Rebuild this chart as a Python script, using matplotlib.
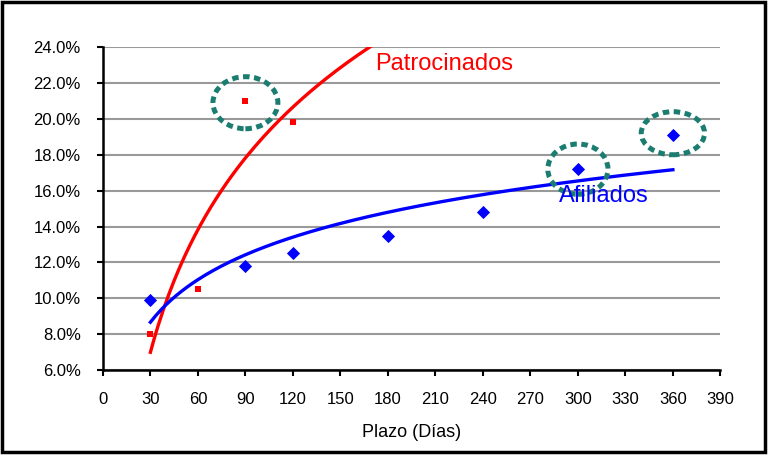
import numpy as np
import matplotlib
matplotlib.use("Agg")
import matplotlib.pyplot as plt
from matplotlib.patches import Ellipse, Rectangle
from matplotlib.ticker import FuncFormatter

# data (plazo in days, rate in %)
patro_x = [30, 60, 90, 120]
patro_y = [8.0, 10.5, 21.0, 19.8]
afil_x = [30, 90, 120, 180, 240, 300, 360]
afil_y = [9.9, 11.8, 12.5, 13.5, 14.8, 17.2, 19.1]
# highlighted points (circled in the chart)
circled = [(90, 20.9, 41, 2.9), (300, 17.2, 38, 2.8), (360, 19.2, 40, 2.4)]
x_ticks = list(range(0, 391, 30))
y_ticks = list(np.arange(6, 24.1, 2))

plt.rcParams['font.family'] = ['Liberation Sans', 'DejaVu Sans']

fig = plt.figure(figsize=(7.68, 4.57), dpi=100)
ax = fig.add_axes([0.134, 0.19, 0.804, 0.707])

# logarithmic trend lines, like the excel ones
def logfit(xs, ys, x0, x1):
    b, a = np.polyfit(np.log(xs), ys, 1)
    xx = np.linspace(x0, x1, 200)
    return xx, a + b * np.log(xx)

xr, yr = logfit(patro_x, patro_y, 30, 360)
xb, yb = logfit(afil_x, afil_y, 30, 360)
ax.plot(xr, yr, color='#ff0000', lw=2.4, zorder=3)
ax.plot(xb, yb, color='#0000ff', lw=2.4, zorder=3)

ax.scatter(patro_x, patro_y, marker='s', s=22, color='#ff0000', zorder=4, linewidths=0)
ax.scatter(afil_x, afil_y, marker='D', s=45, color='#0000ff', zorder=4, linewidths=0)

for cx, cy, w, h in circled:
    ax.add_patch(Ellipse((cx, cy), w, h, fill=False, edgecolor='#1b7d70',
                         lw=3.6, linestyle=(0, (1.3, 0.9)), zorder=5))

ax.text(172, 23.05, 'Patrocinados', color='#ff0000', fontsize=17, va='center', zorder=6)
ax.text(288, 15.7, 'Afiliados', color='#0000ff', fontsize=17, va='center', zorder=6)

ax.set_xlim(0, 390)
ax.set_ylim(6, 24)
ax.set_xticks(x_ticks)
ax.set_yticks(y_ticks)
ax.yaxis.set_major_formatter(FuncFormatter(lambda v, p: f'{v:.1f}%'))
ax.tick_params(labelsize=12, length=4, width=1.5, direction='out', color='black')
ax.tick_params(axis='x', pad=12)
ax.tick_params(axis='y', pad=12)
ax.grid(axis='y', color='#999999', lw=1.5)
ax.set_axisbelow(True)
for s in ['top', 'right']:
    ax.spines[s].set_visible(False)
for s in ['left', 'bottom']:
    ax.spines[s].set_linewidth(1.8)
ax.set_xlabel('Plazo (Días)', fontsize=13, labelpad=12)

# outer frame of the chart
fig.patches.append(Rectangle((0.002, 0.012), 0.994, 0.984, transform=fig.transFigure,
                             fill=False, edgecolor='black', lw=2.5))

fig.savefig('out.png', dpi=100)
